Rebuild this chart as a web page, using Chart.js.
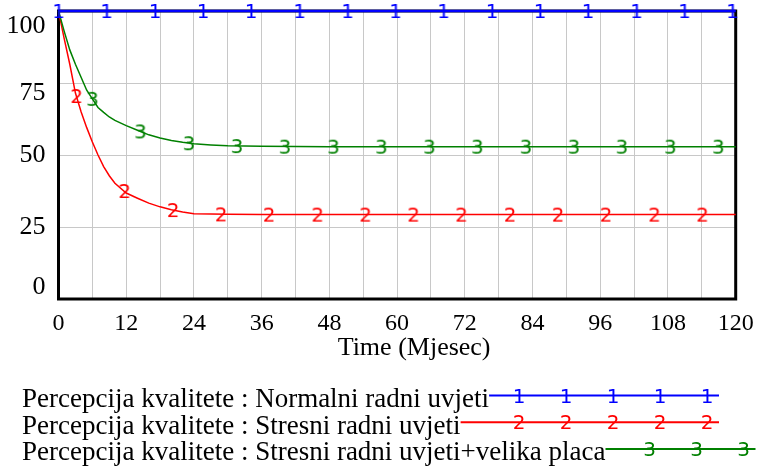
<!DOCTYPE html>
<html>
<head>
<meta charset="utf-8">
<script src="https://cdn.jsdelivr.net/npm/chart.js@4"></script>
<style>
    html, body { margin: 0; padding: 0; background: #fff; }
    #wrap { width: 761px; height: 468px; }
</style>
</head>
<body>
<div id="wrap"><canvas id="qualityChart" width="761" height="468"></canvas></div>
<script>
// Data (time in months, value 0-100)
const TIME = [0, 1, 2, 3, 4, 5, 6, 7, 8, 9, 10, 12, 14, 16, 18, 20, 22, 24, 27, 30, 36, 48, 60, 72, 84, 96, 108, 120];
const NORMAL = [100, 100, 100, 100, 100, 100, 100, 100, 100, 100, 100, 100, 100, 100, 100, 100, 100, 100, 100, 100, 100, 100, 100, 100, 100, 100, 100, 100];
const STRESS = [100, 90.5, 81.5, 71.5, 65, 59.5, 54.5, 50, 46, 42.8, 40.2, 36.8, 35, 33.3, 32, 31, 30.2, 29.6, 29.5, 29.4, 29.3, 29.3, 29.3, 29.3, 29.3, 29.3, 29.3, 29.3];
const STRESS_PAY = [100, 93, 86.5, 81.5, 77, 72.5, 69.5, 66.5, 64.8, 63.2, 62, 60.2, 58.6, 57, 55.9, 55, 54.4, 53.9, 53.5, 53.2, 53, 52.9, 52.9, 52.9, 52.9, 52.9, 52.9, 52.9];

// Where the series number markers sit along each line
const NORMAL_MARK_T = [0, 8.5, 17.1, 25.6, 34.1, 42.7, 51.2, 59.7, 68.2, 76.8, 85.3, 93.8, 102.4, 110.9, 119.4];
const NORMAL_MARK_V = [100, 100, 100, 100, 100, 100, 100, 100, 100, 100, 100, 100, 100, 100, 100];
const STRESS_MARK_T = [3.2, 11.7, 20.3, 28.8, 37.3, 45.9, 54.4, 62.9, 71.4, 80.0, 88.5, 97.0, 105.6, 114.1];
const STRESS_MARK_V = [70.5, 37.5, 30.9, 29.4, 29.3, 29.3, 29.3, 29.3, 29.3, 29.3, 29.3, 29.3, 29.3, 29.3];
const STRESS_PAY_MARK_T = [6.0, 14.5, 23.1, 31.6, 40.1, 48.7, 57.2, 65.7, 74.2, 82.8, 91.3, 99.8, 108.4, 116.9];
const STRESS_PAY_MARK_V = [69.5, 58.2, 54.1, 53.1, 52.9, 52.9, 52.9, 52.9, 52.9, 52.9, 52.9, 52.9, 52.9, 52.9];

const LEGEND_LABELS = [
    'Percepcija kvalitete : Normalni radni uvjeti',
    'Percepcija kvalitete : Stresni radni uvjeti',
    'Percepcija kvalitete : Stresni radni uvjeti+velika placa'
];
const SERIES_COLORS = ['#0000FF', '#FF0000', '#008000'];
const SERIES_DIGITS = ['1', '2', '3'];
const X_TITLE = 'Time (Mjesec)';

const SERIF = '"Liberation Serif", "Times New Roman", serif';
const DIGIT_FONT = '20px "DejaVu Sans", sans-serif';

// small canvas with the series digit, used as point style
function makeDigit(digit, color) {
    const c = document.createElement('canvas');
    c.width = 18;
    c.height = 28;
    const g = c.getContext('2d');
    g.font = DIGIT_FONT;
    g.fillStyle = color;
    g.textAlign = 'center';
    g.textBaseline = 'middle';
    g.fillText(digit, 9, 14 + 2);
    return c;
}

function pairs(xs, ys) {
    return xs.map((x, i) => ({ x: x, y: ys[i] }));
}

const Y_NUDGE = { 75: 10 };

const vensimPlugin = {
    id: 'vensimLook',
    beforeDatasetsDraw(chart) {
        const { ctx, chartArea: a } = chart;
        ctx.save();
        ctx.strokeStyle = '#000';
        ctx.lineWidth = 3;
        ctx.strokeRect(a.left, a.top, a.right - a.left, a.bottom - a.top);
        ctx.restore();
    },
    afterDraw(chart) {
        const { ctx, chartArea: a, scales } = chart;
        ctx.save();
        ctx.fillStyle = '#000';

        // y labels
        ctx.font = '26px ' + SERIF;
        ctx.textAlign = 'right';
        ctx.textBaseline = 'middle';
        scales.y.ticks.forEach(t => {
            const py = scales.y.getPixelForValue(t.value);
            let ty = Math.min(Math.max(py, a.top + 15), a.bottom - 12);
            ty += (Y_NUDGE[t.value] || 0);
            ctx.fillText(String(t.value), a.left - 13, ty);
        });

        // x labels every 12 months
        ctx.font = '24px ' + SERIF;
        ctx.textAlign = 'center';
        ctx.textBaseline = 'alphabetic';
        scales.x.ticks.forEach(t => {
            if (t.value % 12 !== 0) return;
            ctx.fillText(String(t.value), scales.x.getPixelForValue(t.value), a.bottom + 31);
        });

        // axis title
        ctx.font = '26px ' + SERIF;
        ctx.fillText(X_TITLE, (a.left + a.right) / 2 + 17, a.bottom + 56);

        // legend rows: text followed by a line carrying the series digit
        ctx.textAlign = 'left';
        LEGEND_LABELS.forEach((label, i) => {
            const base = a.bottom + 108 + 26.7 * i;
            ctx.font = '27px ' + SERIF;
            ctx.fillStyle = '#000';
            ctx.fillText(label, 22, base);
            const start = 22 + ctx.measureText(label).width;
            const end = Math.max(719, start + 150);
            const ly = base - 11.5;
            ctx.strokeStyle = SERIES_COLORS[i];
            ctx.lineWidth = 2;
            ctx.beginPath();
            ctx.moveTo(start, ly);
            ctx.lineTo(end, ly);
            ctx.stroke();
            ctx.font = DIGIT_FONT;
            ctx.fillStyle = SERIES_COLORS[i];
            ctx.textAlign = 'center';
            ctx.textBaseline = 'middle';
            for (let mx = end - 12; mx > start + 15; mx -= 47) {
                ctx.fillText(SERIES_DIGITS[i], mx, ly + 2);
            }
            ctx.textAlign = 'left';
            ctx.textBaseline = 'alphabetic';
        });
        ctx.restore();
    }
};

const lineSets = [NORMAL, STRESS, STRESS_PAY].map((vals, i) => ({
    data: pairs(TIME, vals),
    borderColor: SERIES_COLORS[i],
    borderWidth: i === 0 ? 2.5 : 1.5,
    pointRadius: 0,
    tension: 0,
    clip: 6,
    order: 3 - i
}));

const markSets = [
    [NORMAL_MARK_T, NORMAL_MARK_V],
    [STRESS_MARK_T, STRESS_MARK_V],
    [STRESS_PAY_MARK_T, STRESS_PAY_MARK_V]
].map(([ts, vs], i) => ({
    data: pairs(ts, vs),
    showLine: false,
    pointStyle: makeDigit(SERIES_DIGITS[i], SERIES_COLORS[i]),
    pointRadius: 3,
    clip: false,
    order: 0
}));

new Chart(document.getElementById('qualityChart'), {
    type: 'line',
    data: { datasets: [...markSets, ...lineSets] },
    options: {
        responsive: false,
        animation: false,
        events: [],
        layout: { padding: { left: 58.5, top: 11, right: 25.3, bottom: 169 } },
        scales: {
            x: {
                type: 'linear',
                min: 0,
                max: 120,
                ticks: { stepSize: 6, display: false },
                grid: { color: '#C8C8C8', lineWidth: 1, drawTicks: false },
                border: { display: false }
            },
            y: {
                min: 0,
                max: 100,
                ticks: { stepSize: 25, display: false },
                grid: { color: '#C8C8C8', lineWidth: 1, drawTicks: false },
                border: { display: false }
            }
        },
        plugins: {
            legend: { display: false },
            tooltip: { enabled: false }
        }
    },
    plugins: [vensimPlugin]
});
</script>
</body>
</html>
